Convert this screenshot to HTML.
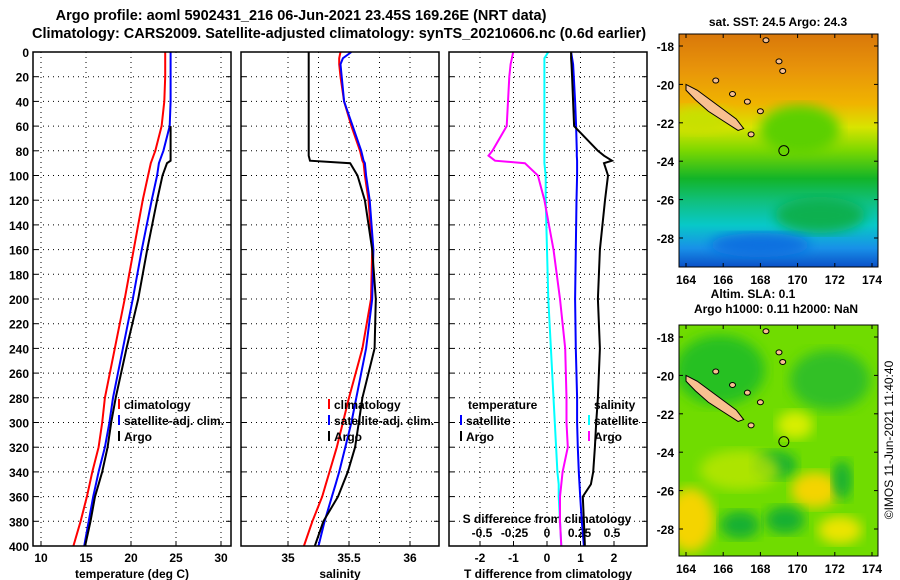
<!DOCTYPE html>
<html><head><meta charset="utf-8"><style>
body{margin:0;background:#fff;}
svg{display:block;font-family:"Liberation Sans",sans-serif;font-weight:bold;}
text{font-size:12px;fill:#000;}
</style></head><body>
<svg id="c" width="900" height="580" viewBox="0 0 900 580">
<defs>
<linearGradient id="sst" x1="0" y1="0" x2="0" y2="1">
<stop offset="0" stop-color="#d9780a"/><stop offset="0.15" stop-color="#e8940a"/><stop offset="0.3" stop-color="#f0b400"/>
<stop offset="0.4" stop-color="#d8e400"/><stop offset="0.5" stop-color="#7cd800"/><stop offset="0.62" stop-color="#12b428"/>
<stop offset="0.72" stop-color="#10c080"/><stop offset="0.82" stop-color="#08c8c8"/><stop offset="0.92" stop-color="#1890e8"/><stop offset="1" stop-color="#0a50c8"/>
</linearGradient>
<filter id="bl"><feGaussianBlur stdDeviation="6"/></filter>
<clipPath id="m1c"><rect x="679" y="34" width="199" height="233"/></clipPath>
<clipPath id="m2c"><rect x="679" y="325" width="199" height="231"/></clipPath>
</defs>
<text x="301" y="20" text-anchor="middle" style="font-size:14.5px">Argo profile: aoml 5902431_216 06-Jun-2021 23.45S 169.26E (NRT data)</text>
<text x="339" y="38" text-anchor="middle" style="font-size:14.5px">Climatology: CARS2009. Satellite-adjusted climatology: synTS_20210606.nc (0.6d earlier)</text>
<g id="panels"></g>
<g id="maps">
<g clip-path="url(#m1c)">
<rect x="679" y="34" width="199" height="233" fill="url(#sst)"/>
<ellipse cx="800" cy="130" rx="40" ry="25" fill="#5cd000" filter="url(#bl)"/>
<ellipse cx="700" cy="120" rx="30" ry="14" fill="#c8e000" filter="url(#bl)"/>
<ellipse cx="820" cy="215" rx="45" ry="18" fill="#10b050" filter="url(#bl)"/>
<ellipse cx="760" cy="245" rx="50" ry="12" fill="#1070e0" filter="url(#bl)"/>
</g>
<g clip-path="url(#m2c)">
<rect x="679" y="325" width="199" height="231" fill="#70dc00"/>
<ellipse cx="720" cy="370" rx="45" ry="35" fill="#28c020" filter="url(#bl)"/>
<ellipse cx="830" cy="380" rx="40" ry="30" fill="#30c028" filter="url(#bl)"/>
<ellipse cx="795" cy="425" rx="18" ry="14" fill="#d8ee00" filter="url(#bl)"/>
<ellipse cx="775" cy="465" rx="22" ry="14" fill="#18b030" filter="url(#bl)"/>
<ellipse cx="815" cy="490" rx="24" ry="18" fill="#f4d400" filter="url(#bl)"/>
<ellipse cx="690" cy="520" rx="24" ry="32" fill="#f4d400" filter="url(#bl)"/>
<ellipse cx="740" cy="525" rx="20" ry="14" fill="#18b030" filter="url(#bl)"/>
<ellipse cx="785" cy="520" rx="20" ry="14" fill="#18b030" filter="url(#bl)"/>
<ellipse cx="840" cy="530" rx="22" ry="14" fill="#ece400" filter="url(#bl)"/>
<ellipse cx="842" cy="480" rx="10" ry="20" fill="#18b030" filter="url(#bl)"/>
<ellipse cx="740" cy="470" rx="40" ry="20" fill="#c8e800" filter="url(#bl)" opacity="0.7"/>
</g>
</g>
<text x="778" y="26" text-anchor="middle">sat. SST: 24.5 Argo: 24.3</text>
<text x="753" y="298" text-anchor="middle">Altim. SLA: 0.1</text>
<text x="776" y="313" text-anchor="middle">Argo h1000: 0.11 h2000: NaN</text>
<text transform="translate(893,440) rotate(-90)" text-anchor="middle" style="font-weight:normal">©IMOS 11-Jun-2021 11:40:40</text>
</svg>
<script>
const depths = [0,5,10,20,40,60,80,84,88,90,100,120,160,200,240,280,300,320,340,350,360,380,400];
const tempClim =   [23.8,23.8,23.8,23.8,23.7,23.4,22.7,22.5,22.3,22.2,21.9,21.3,20.3,19.3,18.2,17.1,16.8,16.4,15.7,15.4,15.1,14.4,13.6];
const tempSat =    [24.4,24.4,24.4,24.4,24.4,24.3,23.6,23.4,23.2,23.1,22.9,22.3,21.2,20.2,19.1,18.0,17.6,17.1,16.4,16.1,15.8,15.3,14.8];
const tempArgo =   [null,null,null,null,null,24.4,24.4,24.4,24.4,24.0,23.5,22.9,21.8,20.8,19.5,18.3,17.8,17.4,16.8,16.4,16.0,15.5,14.9];
const salClim =    [35.43,35.42,35.42,35.43,35.46,35.52,35.59,35.60,35.61,35.62,35.63,35.66,35.69,35.68,35.61,35.50,35.45,35.40,35.34,35.31,35.28,35.20,35.13];
const salSat =     [35.52,35.45,35.43,35.44,35.46,35.53,35.60,35.61,35.62,35.63,35.64,35.67,35.70,35.69,35.64,35.56,35.52,35.47,35.42,35.39,35.36,35.30,35.25];
const salArgo =    [35.17,35.17,35.17,35.17,35.17,35.17,35.17,35.17,35.18,35.51,35.57,35.63,35.69,35.72,35.71,35.61,35.58,35.55,35.49,35.45,35.41,35.29,35.22];
const tDiffSat =   [0.72,0.75,0.78,0.80,0.84,0.87,0.89,0.89,0.90,0.90,0.90,0.88,0.86,0.84,0.86,0.90,0.90,0.92,0.95,0.97,0.99,1.04,1.10];
const tDiffArgo =  [0.72,0.72,0.73,0.75,0.78,0.81,1.52,1.70,1.94,1.70,1.82,1.73,1.58,1.52,1.58,1.52,1.47,1.43,1.38,1.31,1.07,1.10,1.13];
const sDiffSat =   [0.01,-0.02,-0.02,-0.02,-0.02,-0.02,-0.02,-0.02,-0.02,-0.02,-0.01,-0.01,0.00,0.01,0.03,0.05,0.06,0.07,0.08,0.09,0.09,0.10,0.11];
const sDiffArgo =  [-0.26,-0.27,-0.28,-0.29,-0.30,-0.31,-0.42,-0.45,-0.40,-0.17,-0.07,-0.02,0.05,0.10,0.14,0.15,0.15,0.16,0.12,0.11,0.10,0.10,0.11];
const depthTicks = [0,20,40,60,80,100,120,140,160,180,200,220,240,260,280,300,320,340,360,380,400];
const tempTicks = [10,15,20,25,30];
const salTicks = [35,35.5,36];
const tdTicks = [-2,-1,0,1,2];
const sdTicks = [-0.5,-0.25,0,0.25,0.5];
const latTicks = [-18,-20,-22,-24,-26,-28];
const lonTicks = [164,166,168,170,172,174];

const NS='http://www.w3.org/2000/svg';
const root=document.getElementById('panels');
function el(tag,attrs,parent){const e=document.createElementNS(NS,tag);for(const k in attrs)e.setAttribute(k,attrs[k]);(parent||root).appendChild(e);return e;}
const Y0=52,Y1=546;
const yD=d=>Y0+(Y1-Y0)*d/400;
function line(xf,vals,color,name,parent){
  let d='';let pen=false;
  vals.forEach((v,i)=>{if(v===null){pen=false;return;}d+=(pen?'L':'M')+xf(v).toFixed(1)+','+yD(depths[i]).toFixed(1);pen=true;});
  const p=el('path',{d:d,fill:'none',stroke:color,'stroke-width':2},parent);
  
  
}
function panel(x0,x1,name,xf,ticks,gridVals,xlabel,fmt){
  const g=el('g',{});
  
  
  depthTicks.forEach(d=>{
    el('line',{x1:x0,x2:x1,y1:yD(d),y2:yD(d),stroke:'#000','stroke-dasharray':'1,4'},g);
    el('line',{x1:x0,x2:x0+5,y1:yD(d),y2:yD(d),stroke:'#000'},g);
    el('line',{x1:x1-5,x2:x1,y1:yD(d),y2:yD(d),stroke:'#000'},g);
  });
  gridVals.forEach(v=>el('line',{x1:xf(v),x2:xf(v),y1:Y0,y2:Y1,stroke:'#000','stroke-dasharray':'1,4'},g));
  ticks.forEach(v=>{
    el('line',{x1:xf(v),x2:xf(v),y1:Y1-5,y2:Y1,stroke:'#000'},g);
    const t=el('text',{x:xf(v),y:Y1+16,'text-anchor':'middle'},g);t.textContent=fmt?fmt(v):v;
    
    
  });
  const xl=el('text',{x:(x0+x1)/2,y:Y1+32,'text-anchor':'middle'},g);xl.textContent=xlabel;
  
  
  return g;
}
const xT=v=>41+9*(v-10);
const g1=panel(33,231,'temperature-panel',xT,tempTicks,tempTicks,'temperature (deg C)');
depthTicks.forEach(d=>{const t=el('text',{x:29,y:yD(d)+5,'text-anchor':'end'});t.textContent=d;
  
  });
line(xT,tempClim,'#f00','temp-climatology-line',g1);
line(xT,tempSat,'#00f','temp-satellite-line',g1);
line(xT,tempArgo,'#000','temp-argo-line',g1);
const xS=v=>288+122*(v-35);
const g2=panel(241,439,'salinity-panel',xS,salTicks,[35,35.25,35.5,35.75,36],'salinity');
line(xS,salClim,'#f00','sal-climatology-line',g2);
line(xS,salSat,'#00f','sal-satellite-line',g2);
line(xS,salArgo,'#000','sal-argo-line',g2);
const xTD=v=>547+33.5*v;
const xSD=v=>547+130*v;
const g3=panel(449,647,'difference-panel',xTD,tdTicks,tdTicks,'T difference from climatology');
sdTicks.forEach(v=>{const t=el('text',{x:xSD(v),y:537,'text-anchor':'middle'},g3);t.textContent=v;
  
  });
const st=el('text',{x:547,y:523,'text-anchor':'middle'},g3);st.textContent='S difference from climatology';


line(xSD,sDiffSat,'#0ff','s-diff-satellite-line',g3);
line(xSD,sDiffArgo,'#f0f','s-diff-argo-line',g3);
line(xTD,tDiffSat,'#00f','t-diff-satellite-line',g3);
line(xTD,tDiffArgo,'#000','t-diff-argo-line',g3);
[[33,231],[241,439],[449,647]].forEach(([a,b])=>el('rect',{x:a,y:Y0,width:b-a,height:Y1-Y0,fill:'none',stroke:'#000','stroke-width':1.5}));
function legend(x,y,color,label,parent){
  el('line',{x1:x,x2:x,y1:y-10,y2:y,stroke:color,'stroke-width':2},parent);
  const t=el('text',{x:x+5,y:y},parent);t.textContent=label;
  
  
}
legend(119,409,'#f00','climatology',g1);legend(119,425,'#00f','satellite-adj. clim.',g1);legend(119,441,'#000','Argo',g1);
legend(329,409,'#f00','climatology',g2);legend(329,425,'#00f','satellite-adj. clim.',g2);legend(329,441,'#000','Argo',g2);
const lt=el('text',{x:468,y:409},g3);lt.textContent='temperature';


const ls=el('text',{x:594,y:409},g3);ls.textContent='salinity';


legend(461,425,'#00f','satellite',g3);legend(461,441,'#000','Argo',g3);
legend(589,425,'#0ff','satellite',g3);legend(589,441,'#f0f','Argo',g3);

const mg=document.getElementById('maps');
const lonX=v=>686+18.6*(v-164);
function mapDecor(top,latY){
  const m=el('g',{},mg);
  
  
  const isl=[[164,-20],[164.6,-20.3],[165.3,-20.8],[166,-21.3],[166.7,-21.8],[167.1,-22.3],[166.8,-22.4],[166,-21.9],[165.2,-21.4],[164.5,-20.8],[164,-20.3]];
  el('polygon',{points:isl.map(p=>lonX(p[0])+','+latY(p[1])).join(' '),fill:'#f8c090',stroke:'#000','stroke-width':1},m);
  [[168.3,-17.7],[169,-18.8],[169.2,-19.3],[165.6,-19.8],[166.5,-20.5],[167.3,-20.9],[168,-21.4],[167.5,-22.6]].forEach(p=>
    el('ellipse',{cx:lonX(p[0]),cy:latY(p[1]),rx:3,ry:2.5,fill:'#f8c090',stroke:'#000','stroke-width':1},m));
  el('circle',{cx:lonX(169.26),cy:latY(-23.45),r:5,fill:'none',stroke:'#000','stroke-width':1},m);
  el('rect',{x:679,y:top,width:199,height:(top<100?233:231),fill:'none',stroke:'#000'},m);
  latTicks.forEach(v=>{
    el('line',{x1:679,x2:683,y1:latY(v),y2:latY(v),stroke:'#000'},m);
    el('line',{x1:874,x2:878,y1:latY(v),y2:latY(v),stroke:'#000'},m);
    const t=el('text',{x:674,y:latY(v)+5,'text-anchor':'end'},m);t.textContent=v;
    
    
  });
  const bottom=top<100?267:556;
  lonTicks.forEach(v=>{
    el('line',{x1:lonX(v),x2:lonX(v),y1:top,y2:top+4,stroke:'#000'},m);
    el('line',{x1:lonX(v),x2:lonX(v),y1:bottom-4,y2:bottom,stroke:'#000'},m);
    const t=el('text',{x:lonX(v),y:bottom+17,'text-anchor':'middle'},m);t.textContent=v;
    
    
  });
}
mapDecor(34,v=>46+19.2*(-18-v));
mapDecor(325,v=>337+19.2*(-18-v));
</script>
</body></html>
